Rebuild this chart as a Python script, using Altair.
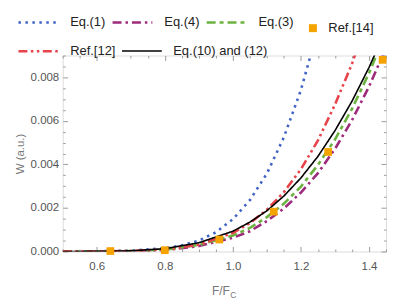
import altair as alt
import pandas as pd

# ---------------- data ----------------
row1_names = ["Eq.(1)", "Eq.(4)", "Eq.(3)"]
row1_colors = ["#4063c4", "#9e2a7c", "#6cb240"]
row1_dashes = [[2.5, 4.5], [9, 4, 2.5, 4], [9, 4, 4, 4]]

row2_names = ["Ref.[12]", "Eq.(10) and (12)"]
row2_colors = ["#e8434a", "#000000"]
row2_dashes = [[9, 3.5, 2.5, 3.5, 2.5, 3.5], [1, 0]]
row2_widths = [2.6, 1.6]

eq1_x = [0.50, 0.60, 0.70, 0.80, 0.85, 0.90, 0.95, 1.00, 1.05, 1.10, 1.15, 1.20, 1.23]
eq1_y = [0.000001, 0.000008, 0.00004, 0.00015, 0.00028, 0.00050, 0.00088, 0.00148,
         0.00236, 0.00358, 0.00525, 0.00742, 0.00910]

eq4_x = [0.50, 0.60, 0.70, 0.80, 0.90, 1.00, 1.05, 1.10, 1.15, 1.20, 1.25, 1.30, 1.35, 1.40, 1.45]
eq4_y = [0.0, 0.000002, 0.00001, 0.00006, 0.00025, 0.00063, 0.00093, 0.00140, 0.00198,
         0.00271, 0.00360, 0.00471, 0.00603, 0.00757, 0.00936]

eq3_x = [0.50, 0.60, 0.70, 0.80, 0.90, 1.00, 1.05, 1.10, 1.15, 1.20, 1.25, 1.30, 1.35, 1.40, 1.45]
eq3_y = [0.0, 0.000003, 0.00002, 0.00008, 0.00030, 0.00073, 0.00108, 0.00158, 0.00220,
         0.00298, 0.00398, 0.00514, 0.00655, 0.00819, 0.01010]

ref12_x = [0.50, 0.60, 0.70, 0.80, 0.90, 1.00, 1.05, 1.10, 1.15, 1.20, 1.25, 1.30, 1.35, 1.37]
ref12_y = [0.0, 0.000003, 0.00002, 0.00009, 0.00031, 0.00085, 0.00130, 0.00192, 0.00273,
           0.00378, 0.00510, 0.00675, 0.00862, 0.00955]

eq10_x = [0.50, 0.60, 0.70, 0.80, 0.90, 1.00, 1.05, 1.10, 1.15, 1.20, 1.25, 1.30, 1.35, 1.40, 1.44]
eq10_y = [0.0, 0.000005, 0.00003, 0.00013, 0.00040, 0.00093, 0.00135, 0.00187, 0.00255,
          0.00338, 0.00437, 0.00555, 0.00690, 0.00845, 0.00985]

ref14_x = [0.64, 0.80, 0.96, 1.12, 1.28, 1.44]
ref14_y = [0.00002, 0.00006, 0.00055, 0.00183, 0.00457, 0.00880]

x_major = [0.6, 0.8, 1.0, 1.2, 1.4]
x_all = [0.5, 0.55, 0.6, 0.65, 0.7, 0.75, 0.8, 0.85, 0.9, 0.95, 1.0, 1.05, 1.1, 1.15,
         1.2, 1.25, 1.3, 1.35, 1.4, 1.45]
y_major = [0.0, 0.002, 0.004, 0.006, 0.008]
y_all = [0.0, 0.0005, 0.001, 0.0015, 0.002, 0.0025, 0.003, 0.0035, 0.004, 0.0045,
         0.005, 0.0055, 0.006, 0.0065, 0.007, 0.0075, 0.008, 0.0085, 0.009]

# ---------------- tables ----------------
def table(names, xs_list, ys_list):
    rows = []
    for name, xs_, ys_ in zip(names, xs_list, ys_list):
        for i, (a, b) in enumerate(zip(xs_, ys_)):
            rows.append({"series": name, "F": a, "W": b, "order": i})
    return pd.DataFrame(rows)

row1_df = table(row1_names, [eq1_x, eq4_x, eq3_x], [eq1_y, eq4_y, eq3_y])
row2_df = table(row2_names, [ref12_x, eq10_x], [ref12_y, eq10_y])
pts_df = pd.DataFrame({"F": ref14_x, "W": ref14_y, "src": ["Ref.[14]"] * len(ref14_x)})

W, H = 325, 197
FONT = "Liberation Sans"
xs = alt.Scale(domain=[0.5, 1.45], nice=False, zero=False)
ys = alt.Scale(domain=[0.0, 0.009], nice=False, zero=False)

xmaj = "round(datum.value*100) % 20 == 0"
ymaj = "round(datum.value*10000) % 20 == 0"
tick_common = dict(labels=False, domain=False, grid=False, title=None, tickColor="#9a9a9a",
                   tickWidth=1)


def line_legend(lx, ly):
    return alt.Legend(orient="none", legendX=lx, legendY=ly, direction="horizontal",
                      title=None, symbolType="stroke", symbolSize=1600,
                      symbolStrokeWidth=2.5, labelFont=FONT, labelFontSize=13,
                      labelColor="#222222", labelOffset=10.5, columnPadding=1.6,
                      padding=0)


leg1 = line_legend(-46, -55)
leg2 = line_legend(-46, -26)

lines1 = alt.Chart(row1_df).mark_line(clip=True, strokeWidth=2.6).encode(
    x=alt.X("F:Q", scale=xs, axis=alt.Axis(orient="bottom", values=x_major, format=".1f",
            tickSize=0, domain=False, grid=False, title=None, labelFont=FONT,
            labelFontSize=11.5, labelColor="#555555", labelPadding=9)),
    y=alt.Y("W:Q", scale=ys, axis=alt.Axis(orient="left", values=y_major, format=".3f",
            tickSize=0, domain=False, grid=False, title="W (a.u.)", labelFont=FONT,
            labelFontSize=11.5, labelColor="#555555", labelPadding=4,
            titleFont=FONT, titleFontSize=11.5, titleFontWeight="normal",
            titleColor="#777777", titlePadding=5)),
    color=alt.Color("series:N", scale=alt.Scale(domain=row1_names, range=row1_colors),
                    legend=leg1),
    strokeDash=alt.StrokeDash("series:N", scale=alt.Scale(domain=row1_names, range=row1_dashes),
                              legend=leg1),
    order="order:Q",
)

lines2 = alt.Chart(row2_df).mark_line(clip=True).encode(
    x=alt.X("F:Q", scale=xs, axis=None),
    y=alt.Y("W:Q", scale=ys, axis=None),
    stroke=alt.Stroke("series:N", scale=alt.Scale(domain=row2_names, range=row2_colors),
                      legend=leg2),
    strokeDash=alt.StrokeDash("series:N", scale=alt.Scale(domain=row2_names, range=row2_dashes),
                              legend=leg2),
    strokeWidth=alt.StrokeWidth("series:N", scale=alt.Scale(domain=row2_names, range=row2_widths),
                                legend=None),
    order="order:Q",
)

points = alt.Chart(pts_df).mark_point(filled=True, size=60, color="#f5a300", opacity=1,
                                      shape="square").encode(
    x=alt.X("F:Q", scale=xs, axis=alt.Axis(orient="top", offset=-H, values=x_all,
            tickSize={"condition": {"test": xmaj, "value": 5}, "value": 2.5}, **tick_common)),
    y=alt.Y("W:Q", scale=ys, axis=alt.Axis(orient="right", offset=-W, values=y_all,
            tickSize={"condition": {"test": ymaj, "value": 5}, "value": 2.5}, **tick_common)),
    shape=alt.Shape("src:N", scale=alt.Scale(range=["square"]),
                    legend=alt.Legend(orient="none", legendX=245, legendY=-34, title=None,
                                      symbolSize=64, symbolFillColor="#f5a300",
                                      symbolStrokeColor="#f5a300", symbolStrokeWidth=0,
                                      labelFont=FONT, labelFontSize=13, labelColor="#222222",
                                      labelOffset=9, padding=0)),
)

frame_ticks = alt.Chart(pts_df).mark_point(opacity=0).encode(
    x=alt.X("F:Q", scale=xs, axis=alt.Axis(orient="bottom", offset=-H, values=x_all,
            tickSize={"condition": {"test": xmaj, "value": 5}, "value": 2.5}, **tick_common)),
    y=alt.Y("W:Q", scale=ys, axis=alt.Axis(orient="left", offset=-W, values=y_all,
            tickSize={"condition": {"test": ymaj, "value": 5}, "value": 2.5}, **tick_common)),
)

xt1 = alt.Chart(pd.DataFrame({"t": ["F/F"]})).mark_text(
    align="left", baseline="alphabetic", font=FONT, fontSize=12, color="#777777").encode(
    x=alt.value(150), y=alt.value(241), text="t:N")
xt2 = alt.Chart(pd.DataFrame({"t": ["C"]})).mark_text(
    align="left", baseline="alphabetic", font=FONT, fontSize=8.5, color="#777777").encode(
    x=alt.value(168.5), y=alt.value(243.5), text="t:N")

chart = alt.layer(lines1, lines2, points, frame_ticks, xt1, xt2).resolve_axis(
    x="independent", y="independent"
).resolve_scale(
    color="independent", stroke="independent", strokeDash="independent",
    strokeWidth="independent"
).properties(
    width=W, height=H,
    autosize=alt.AutoSizeParams(type="none"),
    padding={"left": 55, "top": 47, "right": 5, "bottom": 48},
).configure_view(stroke="#a8a8a8", strokeWidth=1).configure(background="white")

chart.save("out.html", embed_options={"renderer": "svg", "actions": False})
